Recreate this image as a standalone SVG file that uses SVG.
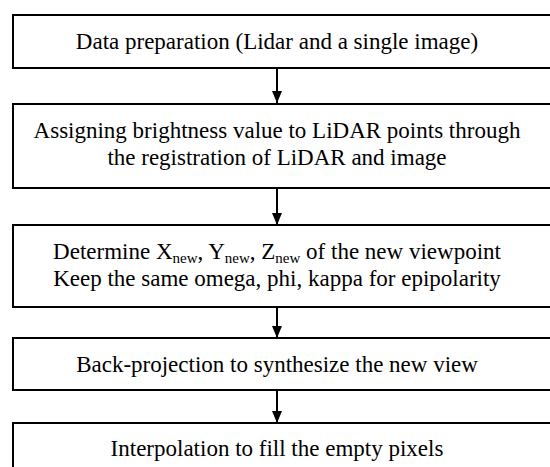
<svg xmlns="http://www.w3.org/2000/svg" width="550" height="467" viewBox="0 0 550 467">
<style>
.box{fill:#fff;stroke:#000;stroke-width:2}
.t{fill:#000;text-anchor:middle}
.c{stroke:#000;stroke-width:2;fill:none}
</style>
<defs>
<marker id="ah" markerWidth="12" markerHeight="10" refX="12" refY="5" orient="auto" markerUnits="userSpaceOnUse" viewBox="0 0 12 10">
<path d="M0,0 L12,5 L0,10 Z" fill="#000"/>
</marker>
</defs>
<rect width="550" height="467" fill="#fff"/>
<g id="connectors">
<line class="c" x1="277" y1="68" x2="277" y2="103" marker-end="url(#ah)"/>
<line class="c" x1="277" y1="188" x2="277" y2="225" marker-end="url(#ah)"/>
<line class="c" x1="277" y1="307" x2="277" y2="338" marker-end="url(#ah)"/>
<line class="c" x1="277" y1="390" x2="277" y2="423" marker-end="url(#ah)"/>
</g>
<g font-family="'Liberation Serif', 'DejaVu Serif', serif" font-size="23">
<g id="n1">
<rect class="box" x="13" y="15" width="545" height="53"/>
<text class="t" x="277" y="49">Data preparation (Lidar and a single image)</text>
</g>
<g id="n2">
<rect class="box" x="13" y="104" width="545" height="84"/>
<text class="t" x="277" y="138">Assigning brightness value to LiDAR points through</text>
<text class="t" x="277" y="165">the registration of LiDAR and image</text>
</g>
<g id="n3">
<rect class="box" x="13" y="225" width="545" height="82"/>
<text class="t" x="277" y="259">Determine X<tspan font-size="15" dy="4">new</tspan><tspan dy="-4">, Y</tspan><tspan font-size="15" dy="4">new</tspan><tspan dy="-4">, Z</tspan><tspan font-size="15" dy="4">new</tspan><tspan dy="-4"> of the new viewpoint</tspan></text>
<text class="t" x="277" y="286">Keep the same omega, phi, kappa for epipolarity</text>
</g>
<g id="n4">
<rect class="box" x="13" y="338" width="545" height="52"/>
<text class="t" x="277" y="372">Back-projection to synthesize the new view</text>
</g>
<g id="n5">
<rect class="box" x="13" y="423" width="545" height="60"/>
<text class="t" x="277" y="456">Interpolation to fill the empty pixels</text>
</g>
</g>
</svg>
